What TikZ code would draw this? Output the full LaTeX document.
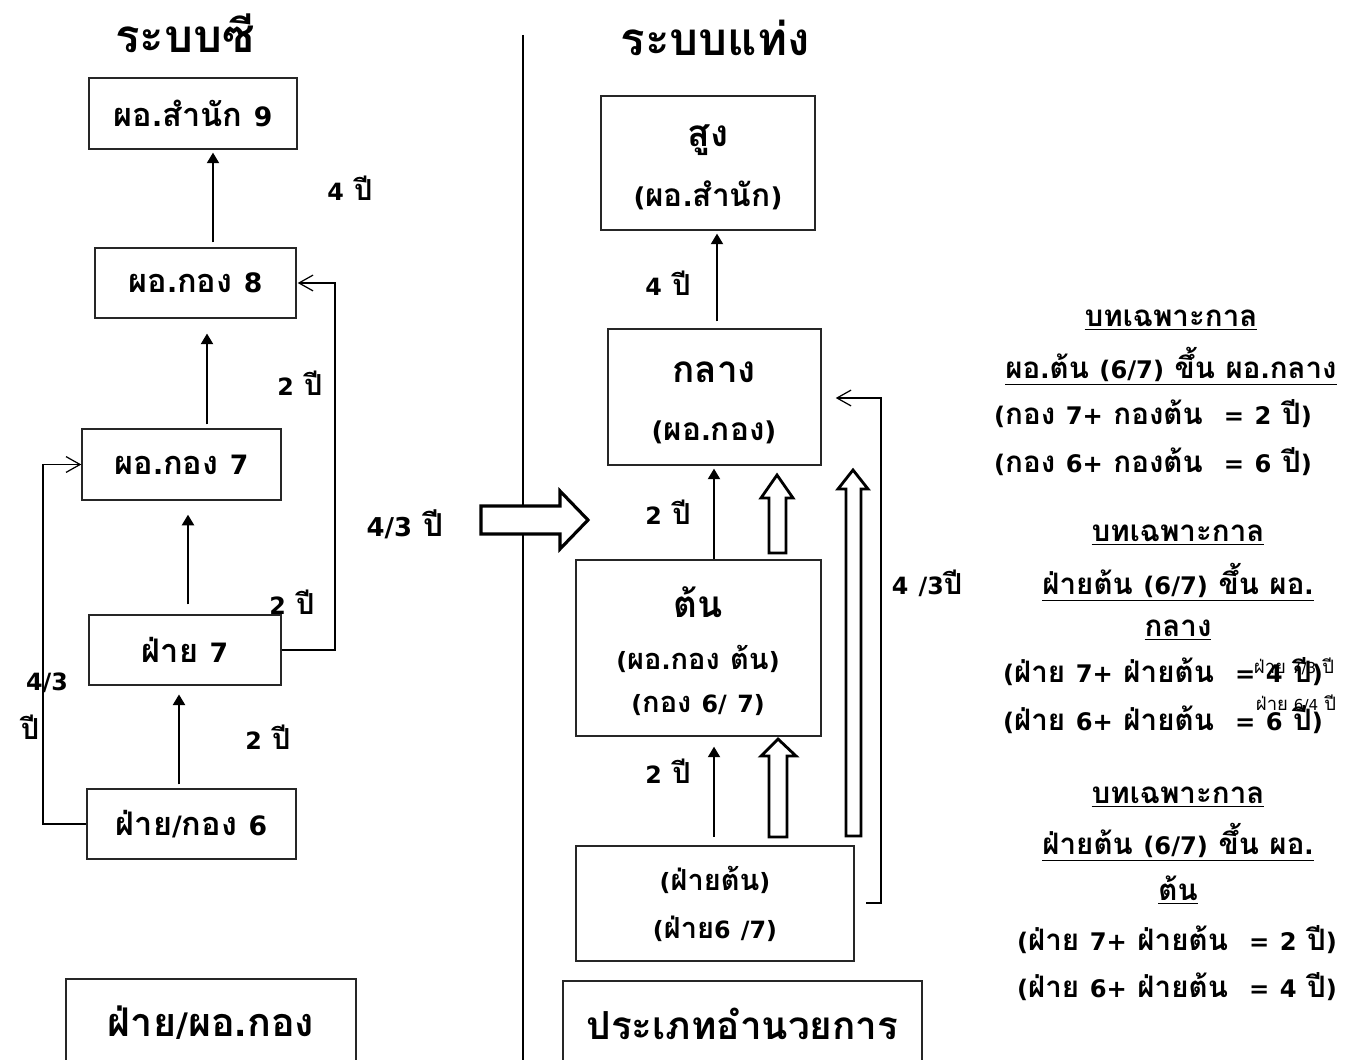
\documentclass[tikz,border=0pt]{standalone}
\usepackage{fontspec}
\setmainfont[Scale=0.82,WordSpace=1.25]{DejaVu Sans}
\newfontfamily\thaifont[Script=Thai]{Loma}
\XeTeXinterchartokenstate=1
\newXeTeXintercharclass\thaicls
\count255="0E00
\loop \XeTeXcharclass\count255=\thaicls \advance\count255 by 1 \ifnum\count255<"0E80 \repeat
\XeTeXinterchartoks 0 \thaicls = {\thaifont}
\XeTeXinterchartoks 4095 \thaicls = {\thaifont}
\XeTeXinterchartoks \thaicls 0 = {\rmfamily}
\XeTeXinterchartoks \thaicls 4095 = {\rmfamily}
\usetikzlibrary{arrows.meta}
\newcommand\myfs[1]{\fontsize{#1}{#1}\selectfont}
\begin{document}
\begin{tikzpicture}[x=0.02cm,y=-0.02cm,
  box/.style={draw=black!85, line width=0.8pt, inner sep=0pt, font=\bfseries\myfs{18.5}},
  lbl/.style={font=\bfseries\myfs{16.5}, inner sep=0pt},
  big/.style={font=\bfseries\myfs{21}, inner sep=0pt},
  ttl/.style={font=\bfseries\myfs{26}, inner sep=0pt},
  rt/.style={font=\bfseries\myfs{16.8}, inner sep=0pt},
  tiny/.style={font=\myfs{10.5}, inner sep=0pt},
  tri/.style={-{Triangle[length=6pt,width=7pt]}, line width=0.7pt},
  opn/.style={-{Straight Barb[length=8pt,width=9pt]}, line width=0.7pt},
  hol/.style={draw, line width=1.6pt, fill=white, line join=miter},
]
\useasboundingbox (0,0) rectangle (1351,1060);
\clip (0,0) rectangle (1351,1060);

% divider
\draw[line width=0.8pt] (523,35) -- (523,1066);

% titles
\node[ttl] (t1) at (185,33) {ระบบซี};
\node[ttl] (t2) at (715,38) {ระบบแท่ง};

% left boxes
\node[box, minimum width=4.16cm, minimum height=1.42cm] (a9) at (193,113.5) {ผอ.สำนัก 9};
\node[box, minimum width=4.02cm, minimum height=1.40cm] (b8) at (195.5,283) {ผอ.กอง 8};
\node[box, minimum width=3.98cm, minimum height=1.42cm] (c7) at (181.5,464.5) {ผอ.กอง 7};
\node[box, minimum width=3.84cm, minimum height=1.40cm] (d7) at (185,650) {ฝ่าย 7};
\node[box, minimum width=4.18cm, minimum height=1.40cm] (e6) at (191.5,824) {ฝ่าย/กอง 6};
\node[box, minimum width=5.80cm, minimum height=1.74cm, font=\bfseries\myfs{22.5}] (f) at (211,1022.5) {ฝ่าย/ผอ.กอง};

% left arrows
\draw[tri, shorten <=2.8pt, shorten >=1.7pt] (213,0 |- b8.north) -- (213,0 |- a9.south);
\draw[tri, shorten <=2.3pt, shorten >=8.5pt] (207,0 |- c7.north) -- (207,0 |- b8.south);
\draw[tri, shorten <=5.7pt, shorten >=8pt] (188,0 |- d7.north) -- (188,0 |- c7.south);
\draw[tri, shorten <=2.3pt, shorten >=5pt] (179,0 |- e6.north) -- (179,0 |- d7.south);
\draw[opn, shorten >=0.6pt] (d7.east) -- (335,650) -- (335,283) -- (b8.east);
\draw[opn] (e6.west) -- (43,824) -- (43,464.5) -- (c7.west);

% left labels
\node[lbl] (l1) at (350,188) {4 ปี};
\node[lbl] (l2) at (300,383) {2 ปี};
\node[lbl] (l3) at (292,602) {2 ปี};
\node[lbl] (l4) at (268,737) {2 ปี};
\node[lbl] (l5) at (47,683) {4/3};
\node[lbl] (l6) at (30,727) {ปี};
\node[lbl, font=\bfseries\myfs{18}] (l7) at (405,524) {4/3 ปี};

% big arrow
\draw[hol, line width=1.8pt] (481,506) -- (560,506) -- (560,491) -- (588,520) -- (560,549) -- (560,534) -- (481,534) -- cycle;

% right boxes
\node[box, minimum width=4.28cm, minimum height=2.68cm] (top) at (708,163) {};
\node[box, minimum width=4.26cm, minimum height=2.72cm] (mid) at (714.5,397) {};
\node[box, minimum width=4.90cm, minimum height=3.52cm] (low) at (698.5,648) {};
\node[box, minimum width=5.56cm, minimum height=2.30cm] (base) at (715,903.5) {};
\node[box, minimum width=7.18cm, minimum height=1.70cm, font=\bfseries\myfs{22}] (typ) at (742.5,1023.5) {ประเภทอำนวยการ};

\node[big] (top1) at (708,140) {สูง};
\node[lbl, font=\bfseries\myfs{18}] (top2) at (708,195) {(ผอ.สำนัก)};
\node[big] (mid1) at (714,372) {กลาง};
\node[lbl, font=\bfseries\myfs{18}] (mid2) at (714,432) {(ผอ.กอง)};
\node[big] (low1) at (698,602) {ต้น};
\node[lbl] (low2) at (698,659) {(ผอ.กอง ต้น)};
\node[lbl] (low3) at (698,705) {(กอง 6/ 7)};
\node[lbl] (base1) at (715,880) {(ฝ่ายต้น)};
\node[lbl] (base2) at (715,929) {(ฝ่าย6 /7)};

% right thin arrows
\draw[tri, shorten <=4pt, shorten >=1.7pt] (717,0 |- mid.north) -- (717,0 |- top.south);
\draw[tri, shorten >=1.7pt] (714,0 |- low.north) -- (714,0 |- mid.south);
\draw[tri, shorten <=5pt, shorten >=5.7pt] (714,0 |- base.north) -- (714,0 |- low.south);
\coordinate (rs) at (866,903);
\draw[opn, shorten >=8pt] (rs) -- (881,903) -- (881,398) -- (mid.east |- 0,398);

% hollow arrows
\draw[hol] (769,837) -- (787,837) -- (787,756) -- (796,756) -- (778,739) -- (761,756) -- (769,756) -- cycle;
\draw[hol] (769,553) -- (786,553) -- (786,498) -- (793,498) -- (777,475) -- (761,498) -- (769,498) -- cycle;
\draw[hol] (846,836) -- (861,836) -- (861,489) -- (868,489) -- (853,470) -- (838,489) -- (846,489) -- cycle;

% right labels
\node[lbl] (r1) at (668,283) {4 ปี};
\node[lbl] (r2) at (668,512) {2 ปี};
\node[lbl] (r3) at (668,771) {2 ปี};
\node[lbl] (r4) at (927,583) {4 /3ปี};

% notes
\node[rt] (n1) at (1171,320) {\underline{บทเฉพาะกาล}};
\node[rt] (n2) at (1171,366) {\underline{ผอ.ต้น (6/7) ขึ้น ผอ.กลาง}};
\node[rt] (n3) at (1153,414) {(กอง 7+ กองต้น\ \ = 2 ปี)};
\node[rt] (n4) at (1153,462) {(กอง 6+ กองต้น\ \ = 6 ปี)};
\node[rt] (n5) at (1178,535) {\underline{บทเฉพาะกาล}};
\node[rt] (n6) at (1178,582) {\underline{ฝ่ายต้น (6/7) ขึ้น ผอ.}};
\node[rt] (n7) at (1178,630) {\underline{กลาง}};
\node[rt] (n8) at (1163,672) {(ฝ่าย 7+ ฝ่ายต้น\ \ = 4 ปี)};
\node[rt] (n9) at (1163,720) {(ฝ่าย 6+ ฝ่ายต้น\ \ = 6 ปี)};
\node[tiny] (s1) at (1294,666) {ฝ่าย 7/3 ปี};
\node[tiny] (s2) at (1296,703) {ฝ่าย 6/4 ปี};
\node[rt] (n10) at (1178,797) {\underline{บทเฉพาะกาล}};
\node[rt] (n11) at (1178,842) {\underline{ฝ่ายต้น (6/7) ขึ้น ผอ.}};
\node[rt] (n12) at (1178,890) {\underline{ต้น}};
\node[rt] (n13) at (1177,940) {(ฝ่าย 7+ ฝ่ายต้น\ \ = 2 ปี)};
\node[rt] (n14) at (1177,987) {(ฝ่าย 6+ ฝ่ายต้น\ \ = 4 ปี)};
\end{tikzpicture}
\end{document}
